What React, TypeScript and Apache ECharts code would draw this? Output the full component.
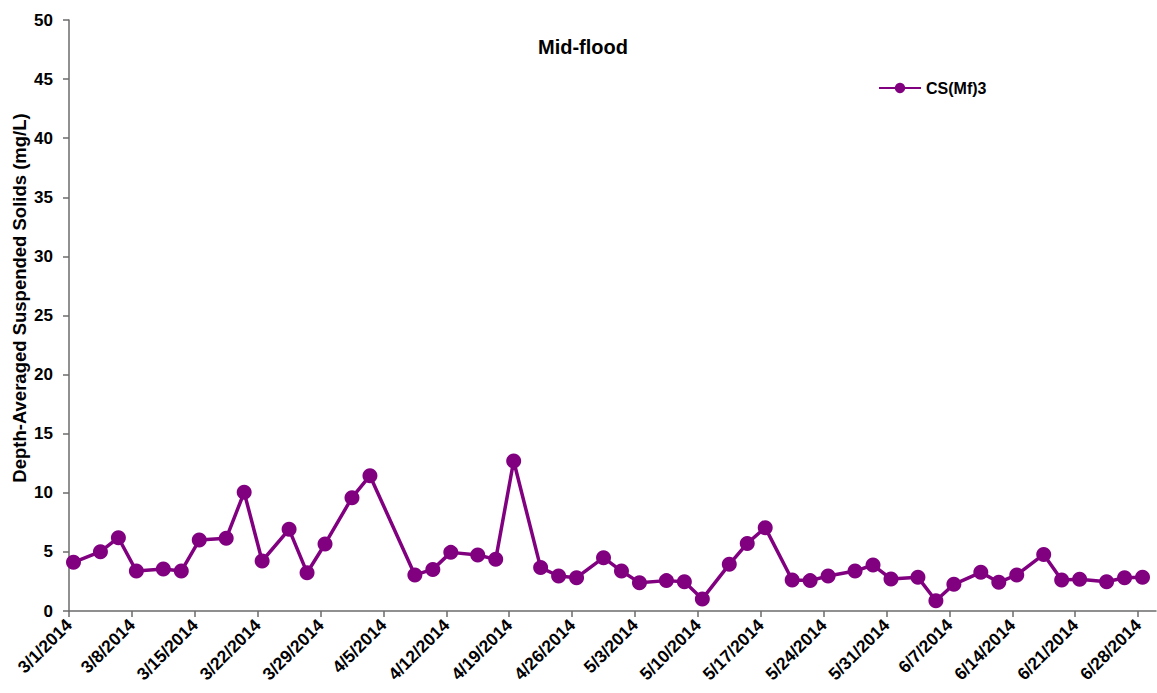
import React, { useEffect, useRef } from "react";
import * as echarts from "echarts";

const seriesName = "CS(Mf)3";
const chartTitle = "Mid-flood";
const yAxisTitle = "Depth-Averaged Suspended Solids (mg/L)";

const sampleDates = [
  "3/1/2014", "3/4/2014", "3/6/2014", "3/8/2014", "3/11/2014", "3/13/2014", "3/15/2014",
  "3/18/2014", "3/20/2014", "3/22/2014", "3/25/2014", "3/27/2014", "3/29/2014", "4/1/2014",
  "4/3/2014", "4/8/2014", "4/10/2014", "4/12/2014", "4/15/2014", "4/17/2014", "4/19/2014",
  "4/22/2014", "4/24/2014", "4/26/2014", "4/29/2014", "5/1/2014", "5/3/2014", "5/6/2014",
  "5/8/2014", "5/10/2014", "5/13/2014", "5/15/2014", "5/17/2014", "5/20/2014", "5/22/2014",
  "5/24/2014", "5/27/2014", "5/29/2014", "5/31/2014", "6/3/2014", "6/5/2014", "6/7/2014",
  "6/10/2014", "6/12/2014", "6/14/2014", "6/17/2014", "6/19/2014", "6/21/2014", "6/24/2014",
  "6/26/2014", "6/28/2014",
];

const tssValues = [
  4.12, 5.02, 6.2, 3.38, 3.55, 3.38, 6.0,
  6.15, 10.04, 4.23, 6.91, 3.24, 5.67, 9.59,
  11.45, 3.05, 3.52, 4.96, 4.74, 4.37, 12.69,
  3.67, 2.96, 2.82, 4.51, 3.38, 2.4, 2.57,
  2.48, 1.02, 3.95, 5.72, 7.05, 2.62, 2.57,
  2.96, 3.38, 3.89, 2.71, 2.85, 0.87, 2.26,
  3.27, 2.43, 3.05, 4.79, 2.62, 2.68, 2.48,
  2.82, 2.85,
];

const axisStartDate = "3/1/2014";
const axisEndDate = "6/30/2014";
const yTicks = [0, 5, 10, 15, 20, 25, 30, 35, 40, 45, 50];

const DAY = 86400000;
function parseDate(s: string): number {
  const [m, d, y] = s.split("/").map(Number);
  return Date.UTC(y, m - 1, d);
}
const t0 = parseDate(axisStartDate);
function dayIndex(s: string): number {
  return Math.round((parseDate(s) - t0) / DAY);
}
function dayLabel(v: number): string {
  const dt = new Date(t0 + v * DAY);
  return `${dt.getUTCMonth() + 1}/${dt.getUTCDate()}/${dt.getUTCFullYear()}`;
}

const FONT = "'Liberation Sans', Arial, sans-serif";
const AXIS_COLOR = "#6b6b6b";

export default function App() {
  const ref = useRef<HTMLDivElement>(null);
  useEffect(() => {
    if (!ref.current) return;
    const chart = echarts.init(ref.current, null, { renderer: "svg" });
    const data = sampleDates.map((d, i) => [dayIndex(d) + 0.5, tssValues[i]]);
    const xMax = dayIndex(axisEndDate);
    chart.setOption({
      animation: false,
      backgroundColor: "#ffffff",
      textStyle: { fontFamily: FONT },
      title: {
        text: chartTitle,
        left: 583,
        top: 37,
        textAlign: "center",
        padding: 0,
        textStyle: { fontFamily: FONT, fontSize: 20, fontWeight: "bold", color: "#000" },
      },
      legend: {
        left: 878,
        top: 80,
        itemWidth: 42,
        itemHeight: 13,
        padding: 0,
        data: [seriesName],
        textStyle: { fontFamily: FONT, fontSize: 16, fontWeight: "bold", color: "#000" },
      },
      grid: { left: 69, right: 1, top: 20, bottom: 82 },
      xAxis: {
        type: "value",
        min: 0,
        max: xMax,
        interval: 7,
        splitLine: { show: false },
        axisLine: { lineStyle: { color: AXIS_COLOR, width: 1.5 } },
        axisTick: { length: 6, lineStyle: { color: AXIS_COLOR, width: 1.5 } },
        axisLabel: {
          rotate: 45,
          margin: 11,
          showMaxLabel: false,
          fontFamily: FONT,
          fontSize: 17.5,
          fontWeight: "bold",
          color: "#000",
          formatter: (v: number) => (v % 7 === 0 ? dayLabel(v) : ""),
        },
      },
      yAxis: {
        type: "value",
        min: yTicks[0],
        max: yTicks[yTicks.length - 1],
        interval: yTicks[1] - yTicks[0],
        splitLine: { show: false },
        axisLine: { show: true, lineStyle: { color: AXIS_COLOR, width: 1.5 } },
        axisTick: { show: true, length: 6, lineStyle: { color: AXIS_COLOR, width: 1.5 } },
        axisLabel: {
          margin: 16,
          fontFamily: FONT,
          fontSize: 17,
          fontWeight: "bold",
          color: "#000",
        },
      },
      graphic: [
        {
          type: "text",
          x: 19,
          y: 298,
          rotation: Math.PI / 2,
          style: {
            text: yAxisTitle,
            fontFamily: FONT,
            fontSize: 18.5,
            fontWeight: "bold",
            fill: "#000",
            align: "center",
            verticalAlign: "middle",
          },
        },
      ],
      series: [
        {
          name: seriesName,
          type: "line",
          data,
          symbol: "circle",
          symbolSize: 15,
          color: "#800080",
          lineStyle: { width: 3.5, color: "#800080" },
          itemStyle: { color: "#800080" },
        },
      ],
    });
    return () => chart.dispose();
  }, []);
  return (
    <div
      ref={ref}
      style={{ position: "absolute", left: 0, top: 0, width: 1157, height: 693 }}
    />
  );
}
